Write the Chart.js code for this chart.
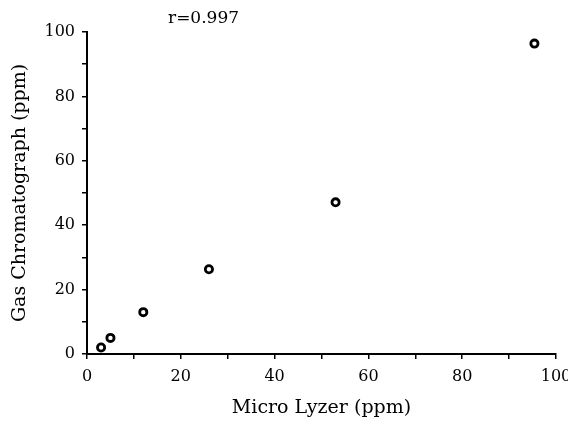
<!DOCTYPE html>
<html>
<head>
<meta charset="utf-8">
<script src="https://cdn.jsdelivr.net/npm/chart.js@4.4.1/dist/chart.umd.min.js"></script>
<style>
    html, body { margin: 0; padding: 0; background: #fff; }
    #wrap { width: 568px; height: 422px; position: relative; }
</style>
</head>
<body>
<div id="wrap"><canvas id="chart"></canvas></div>
<script>
// Micro Lyzer reading (x) vs Gas Chromatograph reading (y), ppm
const microLyzer = [3, 5, 12, 26, 53, 95.4];
const gasChrom = [2, 5, 13, 26.3, 47.1, 96.4];
const corrText = 'r=0.997';
const xTitle = 'Micro Lyzer (ppm)';
const yTitle = 'Gas Chromatograph (ppm)';

const FONT = "'DejaVu Serif', 'Liberation Serif', serif";
const INK = '#000';

const points = microLyzer.map((x, i) => ({ x: x, y: gasChrom[i] }));

// correlation note above the plot
const corrLabel = {
    id: 'corrLabel',
    afterDraw(chart) {
        const ctx = chart.ctx;
        const area = chart.chartArea;
        ctx.save();
        ctx.font = '17px ' + FONT;
        ctx.fillStyle = INK;
        ctx.textAlign = 'left';
        ctx.textBaseline = 'alphabetic';
        ctx.fillText(corrText, area.left + 81, area.top - 9);
        ctx.restore();
    }
};

function axisOptions(title, titlePadding) {
    return {
        type: 'linear',
        min: 0,
        max: 100,
        ticks: {
            stepSize: 10,
            color: INK,
            font: { family: FONT, size: 16 },
            padding: 7,
            callback: v => (v % 20 === 0 ? v : '')
        },
        grid: {
            drawOnChartArea: false,
            drawTicks: true,
            tickLength: 5,
            tickColor: INK,
            lineWidth: 1.5
        },
        border: { display: true, color: INK, width: 2 },
        title: {
            display: true,
            text: title,
            color: INK,
            font: { family: FONT, size: 19 },
            padding: titlePadding
        }
    };
}

const xScale = axisOptions(xTitle, { top: 0, bottom: 3 });
xScale.ticks.padding = 8;
xScale.afterFit = function (scale) {
    scale.height = 68;
    scale.paddingLeft = 0;
    scale.paddingRight = 0;
};

const yScale = axisOptions(yTitle, { top: 9, bottom: 0 });
yScale.afterFit = function (scale) {
    scale.width = 87;
    scale.paddingTop = 0;
    scale.paddingBottom = 0;
};

new Chart(document.getElementById('chart'), {
    type: 'scatter',
    data: {
        datasets: [{
            data: points,
            pointStyle: 'circle',
            pointRadius: 3.6,
            pointBorderWidth: 2.8,
            borderColor: INK,
            backgroundColor: '#fff'
        }]
    },
    options: {
        responsive: true,
        maintainAspectRatio: false,
        animation: false,
        layout: { padding: { left: 0, top: 32, right: 12, bottom: 0 } },
        scales: { x: xScale, y: yScale },
        plugins: {
            legend: { display: false },
            tooltip: { enabled: false }
        }
    },
    plugins: [corrLabel]
});
</script>
</body>
</html>
